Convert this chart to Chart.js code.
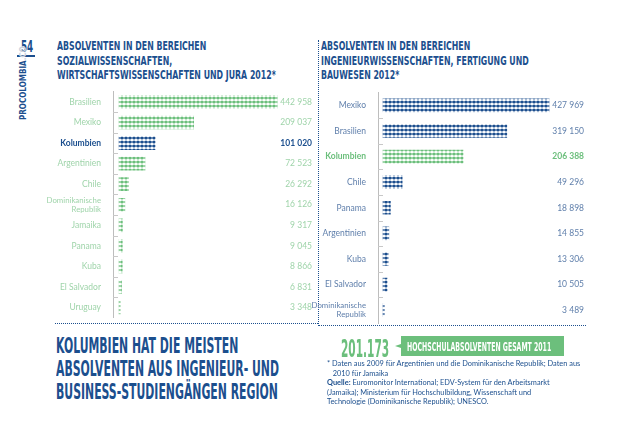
<!DOCTYPE html>
<html lang="de">
<head>
<meta charset="UTF-8">
<title>Absolventen</title>
<script src="https://cdn.jsdelivr.net/npm/chart.js@4.4.1/dist/chart.umd.min.js"></script>
<style>
  body { margin: 0; background: #fff; width: 638px; height: 448px; position: relative; overflow: hidden; }
  .abs { position: absolute; }
  .cond { font-family: 'Liberation Sans Narrow', 'DejaVu Sans Condensed', sans-serif; font-weight: bold; color: #1c4f8e; white-space: nowrap; transform-origin: left top; }
  .title { font-size: 13px; line-height: 14.5px; transform: scaleX(0.67); }
  .headline { font-size: 22px; line-height: 23px; transform: scaleX(0.55); top: 334px; left: 56px; }
  .note { font-family: Lato, 'Noto Sans', sans-serif; font-size: 7.4px; line-height: 9.6px; color: #1c4f8e; left: 327px; top: 359px; white-space: nowrap; }
  .dotv { border-left: 1px dotted #1c4f8e; }
  .doth { border-top: 1px dotted #1c4f8e; }
  canvas { position: absolute; }
</style>
</head>
<body>

<div class="abs cond" style="left:21px;top:38px;font-size:15px;transform:scaleX(0.65)">54</div>
<div class="abs" style="left:17px;top:55px;width:18px;height:2px;background:#1c4f8e"></div>
<div class="abs" style="left:19px;top:120px;transform:rotate(-90deg);transform-origin:left top;font-family:'Liberation Sans Narrow','DejaVu Sans Condensed',sans-serif;font-weight:bold;font-size:8px;color:#1c4f8e;white-space:nowrap">PROCOLOMBIA<span style="color:#c9d3df">.CO</span></div>

<div class="abs cond title" style="left:57px;top:39px">ABSOLVENTEN IN DEN BEREICHEN<br>SOZIALWISSENSCHAFTEN,<br>WIRTSCHAFTSWISSENSCHAFTEN UND JURA 2012*</div>
<div class="abs cond title" style="left:321px;top:39px">ABSOLVENTEN IN DEN BEREICHEN<br>INGENIEURWISSENSCHAFTEN, FERTIGUNG UND<br>BAUWESEN 2012*</div>

<div class="abs dotv" style="left:318px;top:40px;height:284px"></div>
<div class="abs doth" style="left:55px;top:323px;width:263px"></div>
<div class="abs doth" style="left:318px;top:325px;width:268px"></div>

<canvas id="left" style="left:40px;top:80px" width="276" height="250"></canvas>
<canvas id="right" style="left:312px;top:80px" width="276" height="258"></canvas>

<div class="abs cond headline">KOLUMBIEN HAT DIE MEISTEN<br>ABSOLVENTEN AUS INGENIEUR- UND<br>BUSINESS-STUDIENGÄNGEN REGION</div>

<div class="abs cond" style="left:341px;top:334px;font-size:25px;color:#6cbf7c;transform:scaleX(0.47)">201.173</div>
<div class="abs" style="left:395px;top:336px;width:169px;height:20px;background:#6cbf7c;clip-path:polygon(6px 0,100% 0,100% 100%,6px 100%,6px 60%,0 50%,6px 40%)"></div>
<div class="abs cond" style="left:407px;top:340px;font-size:11.5px;color:#fff;transform:scaleX(0.6)">HOCHSCHULABSOLVENTEN GESAMT 2011</div>

<div class="abs note">* Daten aus 2009 für Argentinien und die Dominikanische Republik; Daten aus<br>&nbsp;&nbsp;&nbsp;2010 für Jamaika<br><b>Quelle:</b> Euromonitor International; EDV-System für den Arbeitsmarkt<br>(Jamaika); Ministerium für Hochschulbildung, Wissenschaft und<br>Technologie (Dominikanische Republik); UNESCO.</div>

<script>
// data
const leftCategories = ['Brasilien', 'Mexiko', 'Kolumbien', 'Argentinien', 'Chile', ['Dominikanische', 'Republik'], 'Jamaika', 'Panama', 'Kuba', 'El Salvador', 'Uruguay'];
const leftValues = [442958, 209037, 101020, 72523, 26292, 16126, 9317, 9045, 8866, 6831, 3348];

const rightCategories = ['Mexiko', 'Brasilien', 'Kolumbien', 'Chile', 'Panama', 'Argentinien', 'Kuba', 'El Salvador', ['Dominikanische', 'Republik']];
const rightValues = [427969, 319150, 206388, 49296, 18898, 14855, 13306, 10505, 3489];

const highlight = 'Kolumbien';

const NAVY = '#1c4f8e';
const GREEN = '#6cbf7c';
const PALE_GREEN = '#9fd4aa';
const GREY_BLUE = '#5f7fab';

function makePattern(color) {
    const c = document.createElement('canvas');
    c.width = 4;
    c.height = 4;
    const g = c.getContext('2d');
    g.fillStyle = color;
    g.beginPath();
    g.arc(2, 2, 1.5, 0, Math.PI * 2);
    g.fill();
    g.fillRect(0, 1.5, 4, 1);
    return g.createPattern(c, 'repeat');
}

function fmt(v) {
    return String(v).replace(/\B(?=(\d{3})+(?!\d))/g, ' ');
}

const valueLabels = {
    id: 'valueLabels',
    afterDatasetsDraw(chart, args, opts) {
        const ctx = chart.ctx;
        const meta = chart.getDatasetMeta(0);
        ctx.save();
        ctx.textAlign = 'right';
        ctx.textBaseline = 'middle';
        meta.data.forEach((bar, i) => {
            const hi = chart.data.labels[i] === highlight;
            ctx.font = (hi ? 'bold ' : '') + '8.5px Lato, sans-serif';
            ctx.fillStyle = hi ? opts.hiColor : opts.color;
            ctx.fillText(fmt(chart.data.datasets[0].data[i]), chart.width - 4, bar.y);
        });
        // short marks between rows, right of the axis
        const y = chart.scales.y;
        ctx.strokeStyle = '#c8c8c8';
        ctx.lineWidth = 1;
        for (let i = 1; i < chart.data.labels.length; i++) {
            const p = (y.getPixelForTick(i - 1) + y.getPixelForTick(i)) / 2;
            ctx.beginPath();
            ctx.moveTo(chart.chartArea.left, Math.round(p) + 0.5);
            ctx.lineTo(chart.chartArea.left + 5, Math.round(p) + 0.5);
            ctx.stroke();
        }
        ctx.restore();
    }
};

function makeChart(id, cats, vals, o) {
    new Chart(document.getElementById(id), {
        type: 'bar',
        data: {
            labels: cats,
            datasets: [{
                data: vals,
                backgroundColor: cats.map(c => c === highlight ? makePattern(o.hiBar) : makePattern(o.bar)),
                barThickness: 13
            }]
        },
        options: {
            indexAxis: 'y',
            responsive: false,
            animation: false,
            layout: { padding: o.padding },
            plugins: {
                legend: { display: false },
                tooltip: { enabled: false },
                valueLabels: { color: o.text, hiColor: o.hiText }
            },
            scales: {
                x: { display: false, min: o.min, max: o.max },
                y: {
                    afterFit(scale) { scale.width = o.axisWidth; },
                    grid: { display: false },
                    border: { color: '#bdbdbd', width: 1 },
                    ticks: {
                        autoSkip: false,
                        padding: 4,
                        color: ctx => cats[ctx.index] === highlight ? o.hiText : o.text,
                        font: ctx => ({
                            family: 'Lato, sans-serif',
                            size: Array.isArray(cats[ctx.index]) ? 7.8 : 8.5,
                            lineHeight: 1.1,
                            weight: cats[ctx.index] === highlight ? 'bold' : 'normal'
                        })
                    }
                }
            }
        },
        plugins: [valueLabels]
    });
}

makeChart('left', leftCategories, leftValues, {
    bar: GREEN, hiBar: NAVY, text: PALE_GREEN, hiText: NAVY,
    min: -17000, max: 451000, axisWidth: 73,
    padding: { top: 11.7, bottom: 12.2, right: 36, left: 0 }
});
makeChart('right', rightCategories, rightValues, {
    bar: NAVY, hiBar: GREEN, text: GREY_BLUE, hiText: GREEN,
    min: -13000, max: 435700, axisWidth: 66,
    padding: { top: 9, bottom: 15, right: 36, left: 0 }
});
</script>
</body>
</html>
